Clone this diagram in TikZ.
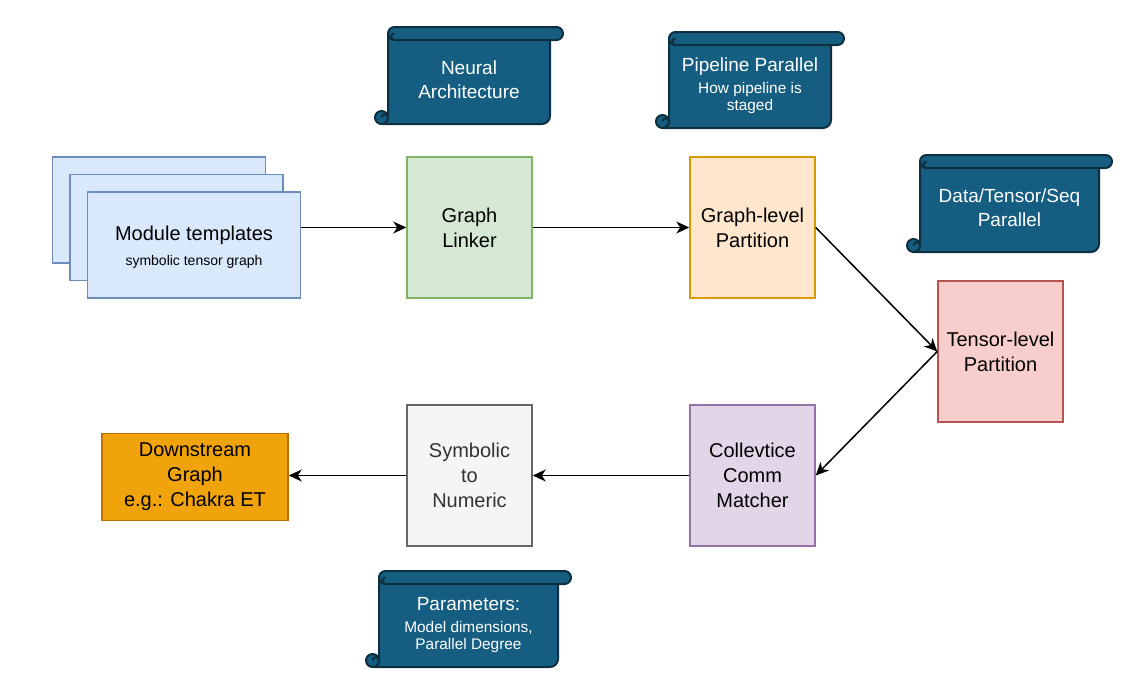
\documentclass[tikz,border=0pt]{standalone}
\usepackage{fontspec}
\setmainfont{Liberation Sans}
\usetikzlibrary{arrows.meta}
\definecolor{modfill}{HTML}{DAE8FC}
\definecolor{modline}{HTML}{6C8EBF}
\definecolor{linkfill}{HTML}{D5E8D4}
\definecolor{linkline}{HTML}{82B366}
\definecolor{gpfill}{HTML}{FFE6CC}
\definecolor{gpline}{HTML}{D79B00}
\definecolor{tpfill}{HTML}{F8CECC}
\definecolor{tpline}{HTML}{B85450}
\definecolor{cmfill}{HTML}{E1D5E7}
\definecolor{cmline}{HTML}{9673A6}
\definecolor{snfill}{HTML}{F5F5F5}
\definecolor{snline}{HTML}{666666}
\definecolor{sntext}{HTML}{333333}
\definecolor{dsfill}{HTML}{F0A30A}
\definecolor{dsline}{HTML}{BD7000}
\definecolor{scrollfill}{HTML}{155E82}
\definecolor{scrollline}{HTML}{0E2F40}
\def\scrollr{6.5}
% scroll: left, top, right, bottom (in px)
\newcommand{\scrollshape}[4]{%
  \filldraw[scroll] ({#1+2*\scrollr},{#2+\scrollr}) -- ({#1+2*\scrollr},{#4-\scrollr})
    arc (0:90:\scrollr) [rounded corners=4] -- ({#3-2*\scrollr},#4)
    -- ({#3-2*\scrollr},{#2+\scrollr}) [sharp corners] -- cycle;
  \filldraw[scroll] ({#1+\scrollr},{#4-\scrollr}) circle (\scrollr);
  \draw[scroll,fill=none] ({#1+\scrollr},{#4-\scrollr}) arc (180:360:{\scrollr/2});
  \filldraw[scroll] ({#1+3*\scrollr},#2) -- ({#3-\scrollr},#2) arc (-90:90:\scrollr)
    -- ({#1+3*\scrollr},{#2+2*\scrollr}) arc (90:270:\scrollr) -- cycle;
  \draw[scroll,fill=none] ({#1+3*\scrollr},{#2+2*\scrollr}) arc (90:270:{\scrollr/2});
}
\newcommand{\smalltext}{\fontsize{7.7}{9}\selectfont}
\begin{document}
\begin{tikzpicture}[x=0.5pt,y=-0.5pt,
  box/.style={draw,line width=0.75pt,minimum width=62.5pt,minimum height=70.5pt,
    align=center,inner sep=2pt,font=\fontsize{10}{12.5}\selectfont},
  modbox/.style={box,fill=modfill,draw=modline,minimum width=106.5pt,minimum height=53pt},
  scroll/.style={fill=scrollfill,draw=scrollline,line width=1pt,line join=round},
  scrolltext/.style={text=white,align=center,font=\fontsize{9.5}{12}\selectfont},
  flow/.style={->,line width=0.75pt},
  >={Stealth[length=6.5pt,width=6pt,inset=2pt]}]
  \useasboundingbox (0,0) rectangle (1136,685);

  \node[modbox] (mod3) at (159,210) {};
  \node[modbox] (mod2) at (176.5,227.5) {};
  \node[modbox] (mod) at (194,245) {};
  \node[align=center,inner sep=0pt] (modtext) at (194,247) {\fontsize{10}{12}\selectfont Module templates\\[0.5pt]
    \fontsize{7}{9}\selectfont symbolic tensor graph};

  \node[box,fill=linkfill,draw=linkline] (link) at (469.5,227.5) {Graph\\Linker};
  \node[box,fill=gpfill,draw=gpline] (gpart) at (752.5,227.5) {Graph-level\\Partition};
  \node[box,fill=tpfill,draw=tpline] (tpart) at (1000.5,351.5) {Tensor-level\\Partition};
  \node[box,fill=cmfill,draw=cmline] (comm) at (752.5,475.5) {Collevtice\\Comm\\Matcher};
  \node[box,fill=snfill,draw=snline,text=sntext] (s2n) at (469.5,475.5) {Symbolic\\to\\Numeric};
  \node[box,fill=dsfill,draw=dsline,minimum width=93pt,minimum height=43.5pt] (down)
    at (195,477) {Downstream\\Graph\\e.g.: Chakra ET};

  \scrollshape{375}{27}{563}{124}
  \node[scrolltext] (arch) at (469,80) {Neural\\Architecture};
  \scrollshape{656}{32}{844}{128}
  \node[scrolltext] (pipe) at (750,86) {Pipeline Parallel\\[-1pt]
    \smalltext How pipeline is\\[-3.5pt] \smalltext staged};
  \scrollshape{907}{155}{1112}{252}
  \node[scrolltext] (dtsp) at (1009.5,207.5) {Data/Tensor/Seq\\Parallel};
  \scrollshape{366}{571}{571}{667}
  \node[scrolltext] (param) at (468.5,625) {Parameters:\\[-1pt]
    \smalltext Model dimensions,\\[-3.5pt] \smalltext Parallel Degree};

  \draw[flow] (mod.east |- link.west) -- (link.west);
  \draw[flow] (link.east) -- (gpart.west);
  \draw[flow] (gpart.east) -- (tpart.west);
  \draw[flow] (tpart.west) -- (comm.east);
  \draw[flow] (comm.west) -- (s2n.east);
  \draw[flow] (s2n.west) -- (down.east |- s2n.west);
\end{tikzpicture}
\end{document}
